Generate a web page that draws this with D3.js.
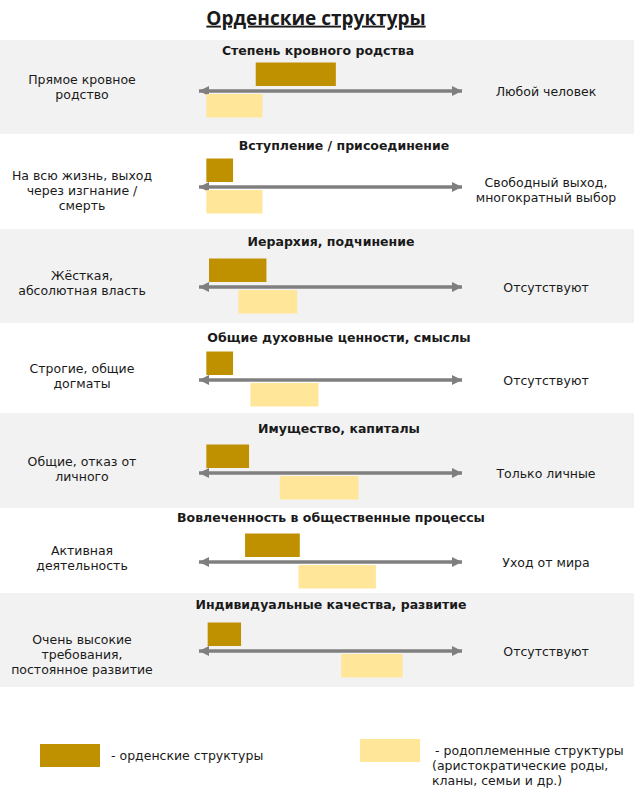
<!DOCTYPE html>
<html lang="ru">
<head>
<meta charset="UTF-8">
<title>Орденские структуры</title>
<script src="https://d3js.org/d3.v7.min.js"></script>
<style>
  body { margin: 0; background: #fff; }
  svg text { font-family: "DejaVu Sans", sans-serif; fill: #1a1a1a; }
</style>
</head>
<body>
<div id="chart"></div>
<script>
// criteria (one row each)
const categories = [
  'Степень кровного родства',
  'Вступление / присоединение',
  'Иерархия, подчинение',
  'Общие духовные ценности, смыслы',
  'Имущество, капиталы',
  'Вовлеченность в общественные процессы',
  'Индивидуальные качества, развитие'
];
const leftLabels = [
  ['Прямое кровное', 'родство'],
  ['На всю жизнь, выход', 'через изгнание /', 'смерть'],
  ['Жёсткая,', 'абсолютная власть'],
  ['Строгие, общие', 'догматы'],
  ['Общие, отказ от', 'личного'],
  ['Активная', 'деятельность'],
  ['Очень высокие', 'требования,', 'постоянное развитие']
];
const rightLabels = [
  ['Любой человек'],
  ['Свободный выход,', 'многократный выбор'],
  ['Отсутствуют'],
  ['Отсутствуют'],
  ['Только личные'],
  ['Уход от мира'],
  ['Отсутствуют']
];
// position on the scale 0 (left extreme) .. 100 (right extreme)
const orderStart  = [22, 3.5, 4.5, 3.5, 3.5, 18, 4];
const orderEnd    = [52, 13.5, 26, 13.5, 19.5, 38.5, 16.5];
const tribalStart = [3.5, 3.5, 15.5, 20, 31, 38, 54];
const tribalEnd   = [24.5, 24.5, 37.5, 45.5, 60.5, 67, 77];
const seriesNames = ['- орденские структуры', '- родоплеменные структуры'];
const seriesNote  = ['(аристократические роды,', 'кланы, семьи и др.)'];

// layout
const W = 640, H = 795;
const panelEdges = [40, 134, 229, 323, 413, 508, 593, 687];
const axisY = [91, 187, 287, 380, 473, 562, 651];
const titleX = [318, 344, 331, 339, 339, 331, 331];
const titleDy = [-40, -41, -45, -42, -44, -44, -46];
const colors = { order: '#bf9000', tribal: '#ffe699', band: '#f2f2f2', arrow: '#7f7f7f' };

const rows = categories.map((c, i) => ({
  name: c, left: leftLabels[i], right: rightLabels[i],
  o0: orderStart[i], o1: orderEnd[i], t0: tribalStart[i], t1: tribalEnd[i],
  top: panelEdges[i], bottom: panelEdges[i + 1], y: axisY[i],
  tx: titleX[i], ty: axisY[i] + titleDy[i], i
}));

const svg = d3.select('#chart').append('svg')
  .attr('width', W).attr('height', H);

const x = d3.scaleLinear().domain([0, 100]).range([197, 464]);
// offsets of the two bars relative to the arrow
const barY = d3.scaleBand().domain(['order', 'tribal'])
  .range([-28.5, 26.5]).paddingInner(8 / 31.5);

// arrow heads
const defs = svg.append('defs');
['start', 'end'].forEach(k => {
  defs.append('marker')
    .attr('id', 'head-' + k)
    .attr('markerUnits', 'userSpaceOnUse')
    .attr('viewBox', '0 0 10 10')
    .attr('refX', k === 'end' ? 10 : 0).attr('refY', 5)
    .attr('markerWidth', 10).attr('markerHeight', 11)
    .attr('orient', 'auto')
    .append('path')
    .attr('d', k === 'end' ? 'M0,0 L10,5 L0,10 Z' : 'M10,0 L0,5 L10,10 Z')
    .attr('fill', colors.arrow);
});

// main title
svg.append('text')
  .attr('x', 316).attr('y', 18).attr('dy', '0.35em')
  .attr('text-anchor', 'middle')
  .style('font-family', '"Open Sans", sans-serif')
  .style('font-size', '19px').style('font-weight', 'bold')
  .style('text-decoration', 'underline')
  .text('Орденские структуры');

const g = svg.selectAll('g.row').data(rows).enter().append('g').attr('class', 'row');

// alternating grey bands
g.filter(d => d.i % 2 === 0).append('rect')
  .attr('x', 0).attr('y', d => d.top)
  .attr('width', 634).attr('height', d => d.bottom - d.top)
  .attr('fill', colors.band);

g.append('text')
  .attr('x', d => d.tx).attr('y', d => d.ty).attr('dy', '0.35em')
  .attr('text-anchor', 'middle')
  .style('font-size', '12.5px').style('font-weight', 'bold')
  .text(d => d.name);

g.append('line')
  .attr('x1', x(0) + 2).attr('x2', x(100) - 2)
  .attr('y1', d => d.y).attr('y2', d => d.y)
  .attr('stroke', colors.arrow).attr('stroke-width', 3.5)
  .attr('marker-start', 'url(#head-start)')
  .attr('marker-end', 'url(#head-end)');

g.append('rect')
  .attr('x', d => x(d.o0)).attr('width', d => x(d.o1) - x(d.o0))
  .attr('y', d => d.y + barY('order')).attr('height', barY.bandwidth())
  .attr('fill', colors.order);

g.append('rect')
  .attr('x', d => x(d.t0)).attr('width', d => x(d.t1) - x(d.t0))
  .attr('y', d => d.y + barY('tribal')).attr('height', barY.bandwidth())
  .attr('fill', colors.tribal);

// left / right extremes
g.each(function(d) {
  const row = d3.select(this);
  d.left.forEach((t, j) => {
    row.append('text')
      .attr('text-anchor', 'middle').style('font-size', '12.5px')
      .attr('x', 82).attr('y', d.y - 11 + j * 15).attr('dy', '0.35em')
      .text(t);
  });
  const n = d.right.length;
  d.right.forEach((t, j) => {
    row.append('text')
      .attr('text-anchor', 'middle').style('font-size', '12.5px')
      .attr('x', 546).attr('y', d.y + 1 - 5 * (n - 1) + j * 14.5).attr('dy', '0.35em')
      .text(t);
  });
});

// legend
const legend = svg.append('g');
legend.append('rect')
  .attr('x', 40).attr('y', 744).attr('width', 60).attr('height', 23)
  .attr('fill', colors.order);
legend.append('text')
  .attr('x', 111).attr('y', 756).attr('dy', '0.35em')
  .style('font-size', '12.5px').text(seriesNames[0]);
legend.append('rect')
  .attr('x', 360).attr('y', 739).attr('width', 60).attr('height', 23)
  .attr('fill', colors.tribal);
legend.append('text')
  .attr('x', 435).attr('y', 751).attr('dy', '0.35em')
  .style('font-size', '12.5px').text(seriesNames[1]);
seriesNote.forEach((t, j) => {
  legend.append('text')
    .attr('x', 432).attr('y', 766 + j * 15).attr('dy', '0.35em')
    .style('font-size', '12.5px').text(t);
});
</script>
</body>
</html>
